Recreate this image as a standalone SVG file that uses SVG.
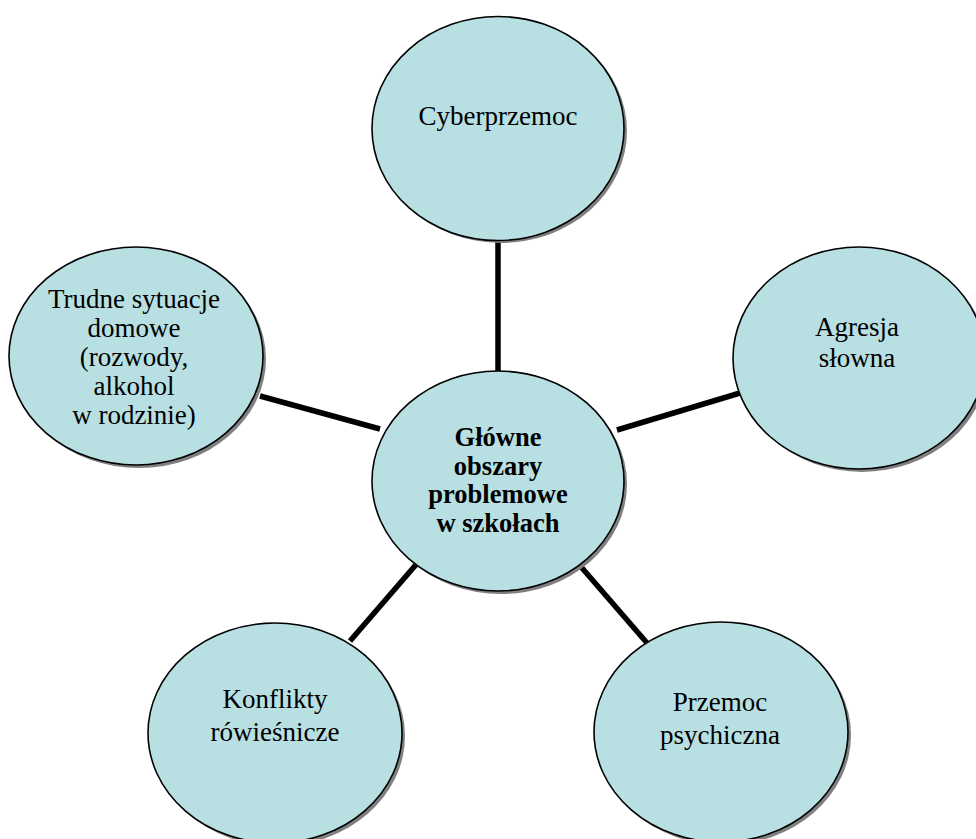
<svg xmlns="http://www.w3.org/2000/svg" width="976" height="839" viewBox="0 0 976 839">
<style>
.shadow{fill:#808080;stroke:none}
.node{fill:#b8dfe2;stroke:#000;stroke-width:1.6}
.conn{stroke:#000;stroke-width:5.5;stroke-linecap:butt;fill:none}
.t{font-family:"Liberation Serif","Times New Roman",serif;font-size:27px;fill:#000;text-anchor:middle}
.b{font-weight:bold;font-size:26.5px}
</style>
<rect width="976" height="839" fill="#fff"/>
<g id="connectors">
<line class="conn" x1="498" y1="238" x2="498" y2="375"/>
<line class="conn" x1="260" y1="396" x2="380" y2="429"/>
<line class="conn" x1="617" y1="430" x2="740" y2="393"/>
<line class="conn" x1="420" y1="560" x2="350" y2="641"/>
<line class="conn" x1="576" y1="561" x2="647" y2="643"/>
</g>
<g id="n-cyber">
<ellipse class="shadow" cx="501" cy="131" rx="126" ry="112"/>
<ellipse class="node" cx="498" cy="128.5" rx="126" ry="112"/>
<text class="t" x="498" y="125">Cyberprzemoc</text>
</g>
<g id="n-trudne">
<ellipse class="shadow" cx="139" cy="359" rx="127" ry="109"/>
<ellipse class="node" cx="136" cy="356" rx="127" ry="109"/>
<text class="t" x="134" y="308">Trudne sytuacje</text>
<text class="t" x="134" y="337">domowe</text>
<text class="t" x="134" y="366">(rozwody,</text>
<text class="t" x="134" y="395">alkohol</text>
<text class="t" x="134" y="424">w rodzinie)</text>
</g>
<g id="n-agresja">
<ellipse class="shadow" cx="862" cy="361" rx="126" ry="111"/>
<ellipse class="node" cx="859" cy="358" rx="126" ry="111"/>
<text class="t" x="857" y="336">Agresja</text>
<text class="t" x="857" y="367">słowna</text>
</g>
<g id="n-konflikty">
<ellipse class="shadow" cx="278" cy="736" rx="127" ry="110"/>
<ellipse class="node" cx="275" cy="733" rx="127" ry="110"/>
<text class="t" x="275" y="708">Konflikty</text>
<text class="t" x="275" y="741">rówieśnicze</text>
</g>
<g id="n-przemoc">
<ellipse class="shadow" cx="724" cy="735" rx="127" ry="110"/>
<ellipse class="node" cx="721" cy="732" rx="127" ry="110"/>
<text class="t" x="720" y="711">Przemoc</text>
<text class="t" x="720" y="744">psychiczna</text>
</g>
<g id="n-center">
<ellipse class="shadow" cx="501" cy="484" rx="126" ry="110"/>
<ellipse class="node" cx="498" cy="481" rx="126" ry="110"/>
<text class="t b" x="498" y="446">Główne</text>
<text class="t b" x="498" y="475">obszary</text>
<text class="t b" x="498" y="503">problemowe</text>
<text class="t b" x="498" y="532">w szkołach</text>
</g>
</svg>
